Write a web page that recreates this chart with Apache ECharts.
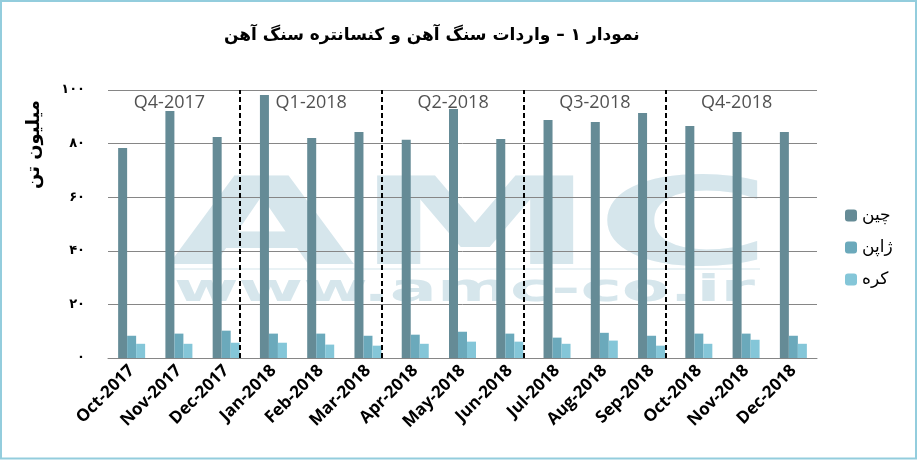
<!DOCTYPE html>
<html>
<head>
<meta charset="utf-8">
<script src="https://cdn.jsdelivr.net/npm/echarts@6/dist/echarts.min.js"></script>
<style>
  html, body { margin: 0; padding: 0; background: #fff; }
  #main { width: 917px; height: 460px; }
</style>
</head>
<body>
<div id="main"></div>
<script>
// ماه‌ها
const months = ["Oct-2017", "Nov-2017", "Dec-2017", "Jan-2018", "Feb-2018", "Mar-2018",
  "Apr-2018", "May-2018", "Jun-2018", "Jul-2018", "Aug-2018", "Sep-2018",
  "Oct-2018", "Nov-2018", "Dec-2018"];
// میلیون تن
const china = [78.4, 92.2, 82.5, 98.1, 82.1, 84.3, 81.4, 92.9, 81.7, 88.8, 88.1, 91.4, 86.6, 84.3, 84.3];
const japan = [8.3, 9.1, 10.2, 9.1, 9.1, 8.3, 8.7, 9.8, 9.1, 7.6, 9.4, 8.3, 9.1, 9.1, 8.3];
const korea = [5.3, 5.3, 5.7, 5.7, 5.0, 4.6, 5.3, 6.1, 6.1, 5.3, 6.5, 4.6, 5.3, 6.8, 5.3];
const quarters = ["Q4-2017", "Q1-2018", "Q2-2018", "Q3-2018", "Q4-2018"];
const seriesNames = ["چین", "ژاپن", "کره"];
const yTicks = [0, 20, 40, 60, 80, 100];

const faDigits = "۰۱۲۳۴۵۶۷۸۹";
const toFa = (v) => String(v).replace(/\d/g, (d) => faDigits[d]);

const chart = echarts.init(document.getElementById("main"));

const colors = ["#658b96", "#6ba9bb", "#84c6d8"];

// quarter labels sit near the middle of each 3-month block, dividers just before block end
const quarterPoints = quarters.map((q, i) => [i * 3 + 1.3, 95.2]);
const dividers = quarters.slice(1).map((q, i) => ({ xAxis: (i + 1) * 3 - 0.21 }));

const barSeries = [china, japan, korea].map((d, i) => ({
  name: seriesNames[i],
  type: "bar",
  data: d,
  barWidth: 9,
  barGap: "0%",
  itemStyle: { color: colors[i] },
  z: 2,
}));

const option = {
  animation: false,
  textStyle: { fontFamily: "DejaVu Sans" },
  title: {
    text: "نمودار ۱ – واردات سنگ آهن و کنسانتره سنگ آهن",
    left: 219,
    top: 22,
    textStyle: { fontFamily: "DejaVu Sans", fontSize: 17, fontWeight: "bold", color: "#000" },
  },
  legend: {
    orient: "vertical",
    left: 840,
    top: 202,
    itemWidth: 12,
    itemHeight: 12,
    itemGap: 15,
    data: seriesNames,
    textStyle: { fontFamily: "DejaVu Sans", fontSize: 17, lineHeight: 14, color: "#000" },
  },
  grid: { left: 108, right: 100, top: 90, bottom: 102 },
  xAxis: [
    {
      type: "category",
      data: months,
      axisLine: { lineStyle: { color: "#868686" } },
      axisTick: { length: 6, lineStyle: { color: "#868686" } },
      axisLabel: {
        rotate: 45,
        interval: 0,
        margin: 10,
        fontFamily: "Open Sans",
        fontWeight: "bold",
        fontSize: 17,
        color: "#000",
      },
    },
    { type: "value", min: 0, max: 15, show: false },
  ],
  yAxis: {
    type: "value",
    min: 0,
    max: 100,
    interval: 20,
    axisLine: { show: false },
    axisTick: { show: false },
    splitLine: { lineStyle: { color: "#868686" } },
    axisLabel: {
      margin: 23,
      fontFamily: "DejaVu Sans",
      fontWeight: "bold",
      fontSize: 13,
      color: "#000",
      formatter: (v) => (yTicks.includes(v) ? toFa(v) : ""),
    },
  },
  series: [
    ...barSeries,
    {
      type: "scatter",
      xAxisIndex: 1,
      data: quarterPoints,
      symbolSize: 0,
      silent: true,
      label: {
        show: true,
        position: "inside",
        formatter: (p) => quarters[p.dataIndex],
        fontFamily: "Open Sans",
        fontSize: 18,
        color: "#262626",
      },
      markLine: {
        silent: true,
        symbol: "none",
        label: { show: false },
        lineStyle: { color: "#000", type: [5, 3], width: 2 },
        data: dividers,
      },
      z: 3,
    },
  ],
  graphic: [
    {
      type: "text",
      left: 168,
      top: 171,
      z: 0,
      silent: true,
      scaleX: 1.98,
      style: {
        text: "AMC",
        font: "bold 122px 'DejaVu Sans'",
        fill: "#d6e6ec",
      },
    },
    {
      type: "rect",
      z: 0,
      silent: true,
      shape: { x: 170, y: 268, width: 590, height: 2 },
      style: { fill: "#e9f2f5" },
    },
    {
      type: "text",
      left: 174,
      top: 272,
      z: 0,
      silent: true,
      scaleX: 1.84,
      style: {
        text: "www.amc-co.ir",
        font: "bold 38px 'DejaVu Sans'",
        fill: "#d6e6ec",
      },
    },
    {
      type: "text",
      left: 25,
      top: 100,
      rotation: Math.PI / 2,
      style: {
        text: "میلیون تن",
        font: "bold 18px 'DejaVu Sans'",
        fill: "#000",
      },
    },
    {
      type: "rect",
      silent: true,
      shape: { x: 1, y: 1, width: 915, height: 457.5 },
      style: { fill: "none", stroke: "#93cddd", lineWidth: 2 },
    },
  ],
};

chart.setOption(option);
</script>
</body>
</html>
